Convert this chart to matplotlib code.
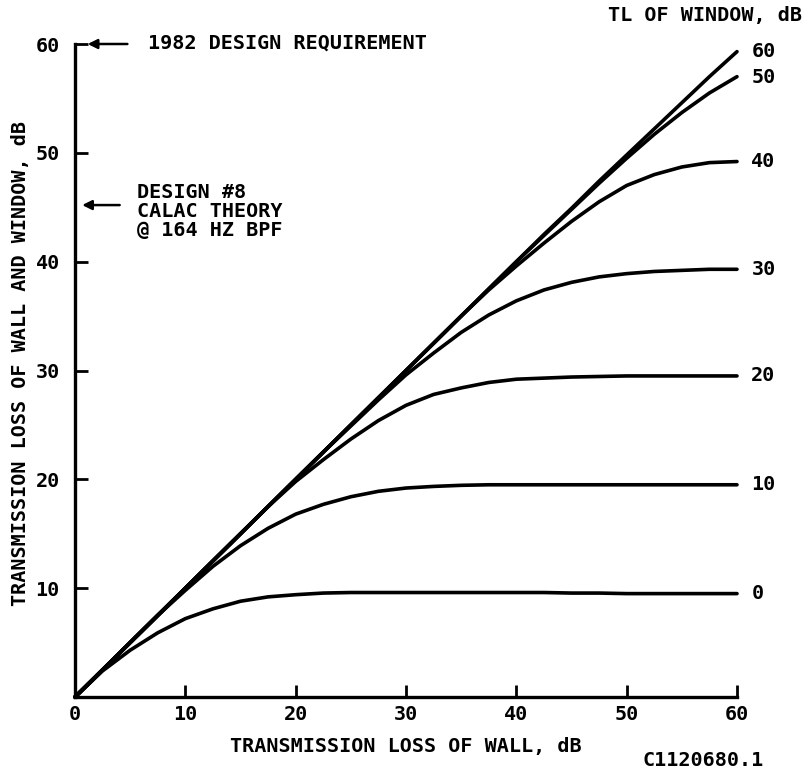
import numpy as np
import matplotlib
matplotlib.use("Agg")
import matplotlib.pyplot as plt

# TL de pared (eje x) y TL combinado pared+ventana, una curva por TL de ventana
TL_PARED = [0, 2.5, 5, 7.5, 10, 12.5, 15, 17.5, 20, 22.5, 25, 27.5, 30,
            32.5, 35, 37.5, 40, 42.5, 45, 47.5, 50, 52.5, 55, 57.5, 60]

TL_VENTANA = [0, 10, 20, 30, 40, 50, 60]

CURVA_0 = [0, 2.4, 4.3, 5.9, 7.2, 8.1, 8.8, 9.2, 9.4, 9.55, 9.6, 9.6, 9.6,
           9.6, 9.6, 9.6, 9.6, 9.6, 9.55, 9.55, 9.5, 9.5, 9.5, 9.5, 9.5]
CURVA_10 = [0, 2.5, 5.0, 7.5, 9.8, 12.0, 13.9, 15.5, 16.8, 17.7, 18.4, 18.9, 19.2,
            19.35, 19.45, 19.5, 19.5, 19.5, 19.5, 19.5, 19.5, 19.5, 19.5, 19.5, 19.5]
CURVA_20 = [0, 2.5, 5.0, 7.5, 10.0, 12.5, 15.0, 17.5, 19.8, 21.8, 23.7, 25.4, 26.8,
            27.8, 28.4, 28.9, 29.2, 29.3, 29.4, 29.45, 29.5, 29.5, 29.5, 29.5, 29.5]
CURVA_30 = [0, 2.5, 5.0, 7.5, 10.0, 12.5, 15.0, 17.5, 20.0, 22.5, 24.9, 27.3, 29.6,
            31.6, 33.5, 35.1, 36.4, 37.4, 38.1, 38.6, 38.9, 39.1, 39.2, 39.3, 39.3]
CURVA_40 = [0, 2.5, 5.0, 7.5, 10.0, 12.5, 15.0, 17.5, 20.0, 22.5, 25.0, 27.5, 30.0,
            32.5, 35.0, 37.4, 39.6, 41.7, 43.7, 45.5, 47.0, 48.0, 48.7, 49.1, 49.2]
CURVA_50 = [0, 2.5, 5.0, 7.5, 10.0, 12.5, 15.0, 17.5, 20.0, 22.5, 25.0, 27.5, 30.0,
            32.5, 35.0, 37.5, 40.0, 42.4, 44.8, 47.2, 49.5, 51.7, 53.7, 55.5, 57.0]
CURVA_60 = [0, 2.5, 5.0, 7.5, 10.0, 12.5, 15.0, 17.5, 20.0, 22.5, 25.0, 27.5, 30.0,
            32.5, 35.0, 37.5, 40.0, 42.5, 44.9, 47.4, 49.8, 52.2, 54.6, 57.0, 59.3]

CURVAS = [CURVA_0, CURVA_10, CURVA_20, CURVA_30, CURVA_40, CURVA_50, CURVA_60]
# altura de la etiqueta de cada curva, a la derecha
Y_ETIQUETA = [9.5, 19.5, 29.5, 39.3, 49.2, 56.9, 59.3]

TICKS = [0, 10, 20, 30, 40, 50, 60]

FUENTE = "DejaVu Sans Mono"
TAM = 14.5

fig = plt.figure(figsize=(8.04, 7.7), dpi=100)
ax = fig.add_axes([75 / 804, 73 / 770, 662 / 804, 653 / 770])

for curva in CURVAS:
    ax.plot(TL_PARED, curva, color="black", linewidth=2.6,
            solid_capstyle="round", solid_joinstyle="round", clip_on=False)

for tl, yl in zip(TL_VENTANA, Y_ETIQUETA):
    ax.text(61.3, yl, str(tl), fontsize=TAM, fontweight="bold",
            family=FUENTE, ha="left", va="center")

ax.set_xlim(0, 60)
ax.set_ylim(0, 60)
for lado in ["top", "right"]:
    ax.spines[lado].set_visible(False)
for lado in ["left", "bottom"]:
    ax.spines[lado].set_linewidth(2.4)

ax.set_xticks(TICKS)
ax.set_yticks(TICKS[1:])
ax.tick_params(direction="in", length=9, width=2, pad=6)
ax.tick_params(axis="y", pad=11)
for lab in ax.get_xticklabels() + ax.get_yticklabels():
    lab.set_fontfamily(FUENTE)
    lab.set_fontweight("bold")
    lab.set_fontsize(TAM)

ax.text(0.5, -0.062, "TRANSMISSION LOSS OF WALL, dB", transform=ax.transAxes,
        ha="center", va="top", fontsize=TAM, fontweight="bold", family=FUENTE)
ax.text(-0.068, 0.51, "TRANSMISSION LOSS OF WALL AND WINDOW, dB",
        transform=ax.transAxes, rotation=90, ha="right", va="center",
        fontsize=TAM, fontweight="bold", family=FUENTE)

# anotaciones
ax.annotate("", xy=(0.9, 60), xytext=(5.0, 60), annotation_clip=False,
            arrowprops=dict(arrowstyle="-|>", color="black", lw=1.8,
                            mutation_scale=14))
ax.text(6.6, 60.1, "1982 DESIGN REQUIREMENT", ha="left", va="center",
        fontsize=TAM, fontweight="bold", family=FUENTE, clip_on=False)

ax.annotate("", xy=(0.4, 45.2), xytext=(4.3, 45.2),
            arrowprops=dict(arrowstyle="-|>", color="black", lw=1.8,
                            mutation_scale=14))
ax.text(5.6, 47.2, "DESIGN #8\nCALAC THEORY\n@ 164 HZ BPF", ha="left",
        va="top", fontsize=TAM, fontweight="bold", family=FUENTE,
        linespacing=1.0)

fig.text(0.998, 1 - 16 / 770, "TL OF WINDOW, dB", ha="right", va="center",
         fontsize=TAM, fontweight="bold", family=FUENTE)
fig.text(643 / 804, 1 - 760 / 770, "C1120680.1", ha="left", va="center",
         fontsize=TAM, fontweight="bold", family=FUENTE)

fig.savefig("out.png", dpi=100)
